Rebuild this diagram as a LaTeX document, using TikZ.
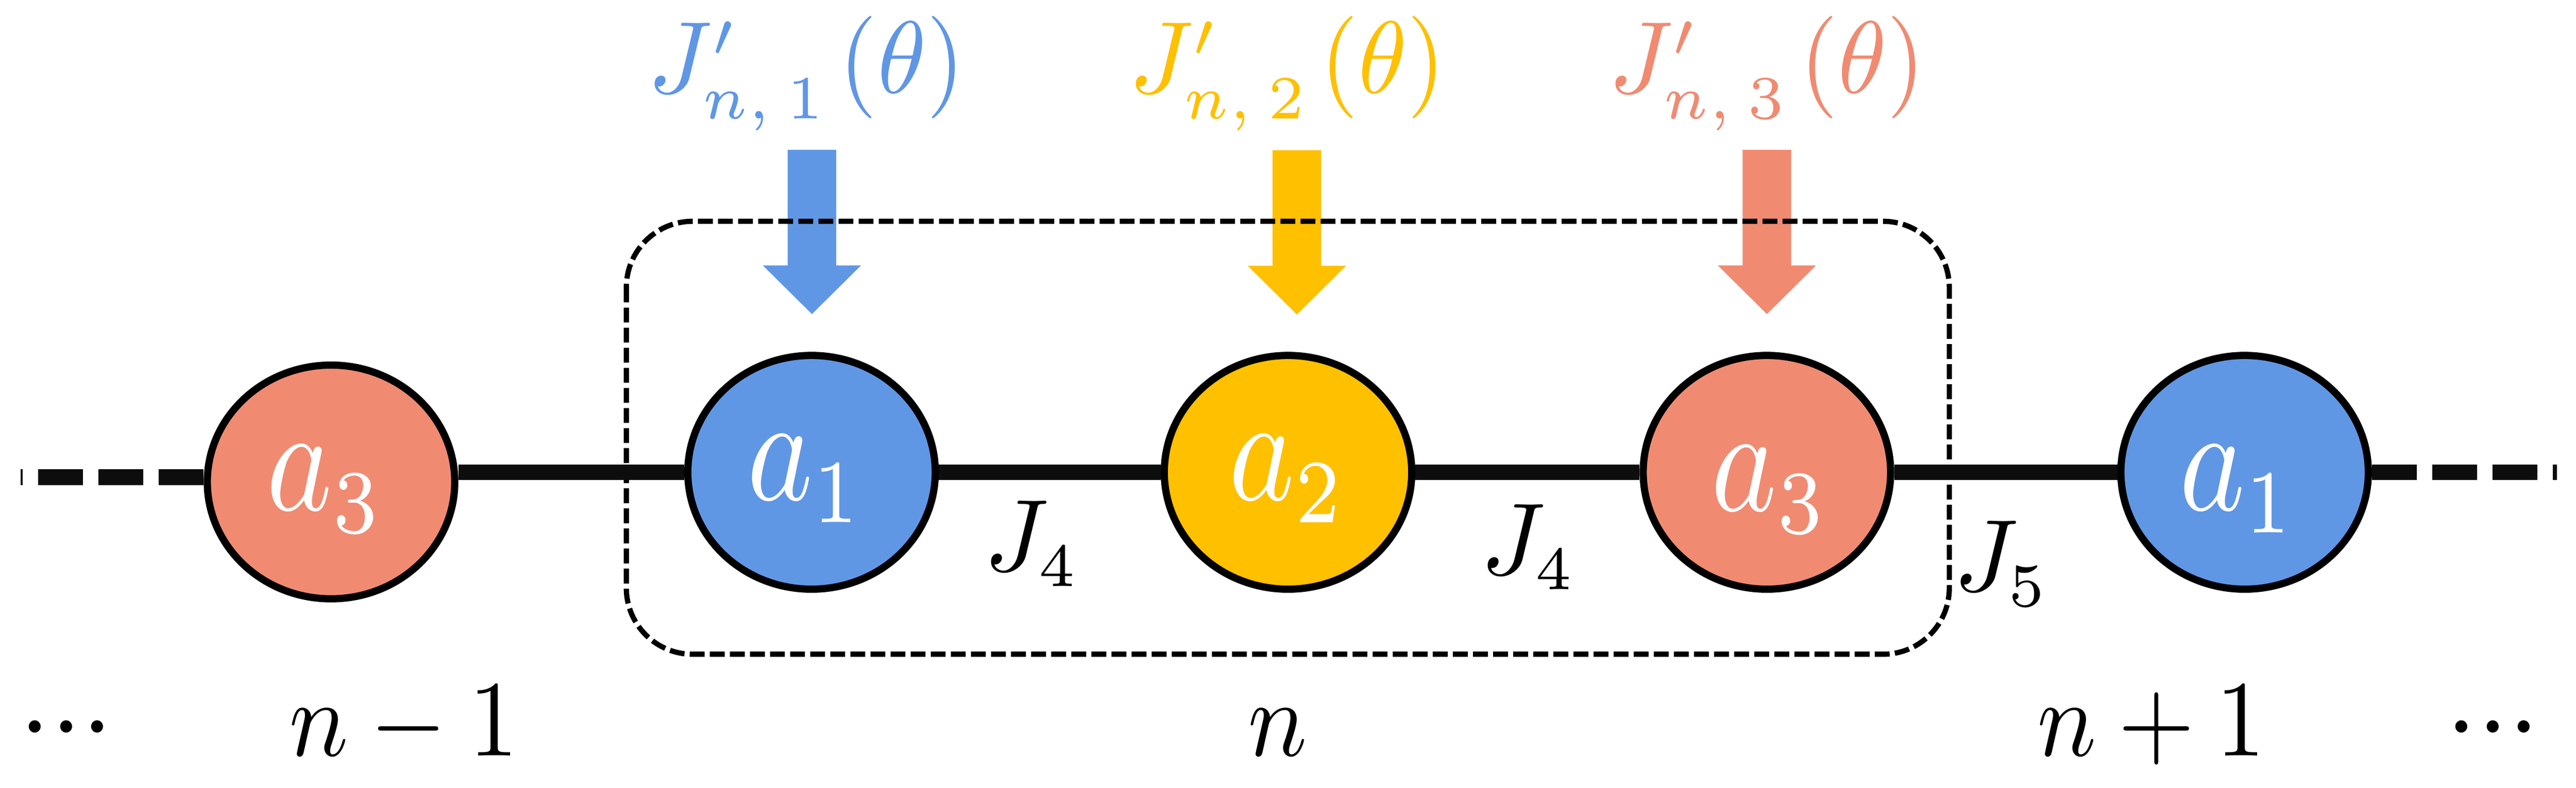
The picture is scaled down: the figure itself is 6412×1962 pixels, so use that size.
\documentclass[tikz,border=0pt]{standalone}
\usepackage{graphicx}
\usetikzlibrary{shapes.geometric}
\DeclareMathSizes{10}{10}{6}{5}
\definecolor{cblue}{HTML}{6097E5}
\definecolor{cyel}{HTML}{FFC000}
\definecolor{cred}{HTML}{F08B72}
\definecolor{cbond}{HTML}{0D0D0D}
\newcommand{\sitetext}[1]{\scalebox{3.1}[3.74]{\fontsize{10}{12}\selectfont$#1$}}
\newcommand{\labtext}[1]{\scalebox{2.45}[2.55]{\fontsize{10}{12}\selectfont$#1$}}
\newcommand{\celltext}[1]{\scalebox{2.45}[2.7]{\fontsize{10}{12}\selectfont$#1$}}
\newcommand{\dotstext}{\scalebox{2.8}[2.9]{\fontsize{10}{12}\selectfont${\cdot}{\cdot}{\cdot}$}}
\tikzset{
  site/.style={ellipse, draw=black, line width=1.8pt, minimum width=61.6pt, minimum height=58.2pt, inner sep=0pt},
  sitelab/.style={anchor=base, inner sep=0pt, text=white},
  bond/.style={line width=3.9pt, draw=cbond},
  bonddash/.style={bond, dash pattern=on 11.2pt off 3.8pt},
  cellbox/.style={line width=1.3pt, dash pattern=on 3.7pt off 1.3pt, rounded corners=16.5pt},
  coup/.style={anchor=base, inner sep=0pt},
  bigarrow/.pic={\fill (-60.5,-409) -- (60.5,-409) -- (60.5,-121) -- (122,-121) -- (0,0) -- (-122,-121) -- (-60.5,-121) -- cycle;}
}
\begin{document}
\begin{tikzpicture}[x=0.1pt,y=-0.1pt]
\useasboundingbox (0,0) rectangle (6412,1962);
% field arrows
\pic[fill=cblue] at (2021,782) {bigarrow};
\pic[fill=cyel]  at (3228,783) {bigarrow};
\pic[fill=cred]  at (4398,782) {bigarrow};
% unit cell
\draw[cellbox] (1559,551) rectangle (4852,1629);
% sites
\node[site,fill=cred]  (la3) at (824,1200) {};
\node[site,fill=cblue] (a1)  at (2020,1176) {};
\node[site,fill=cyel]  (a2)  at (3206,1176) {};
\node[site,fill=cred]  (a3)  at (4398,1176) {};
\node[site,fill=cblue] (ra1) at (5587,1176) {};
% bonds
\coordinate (Lend) at (51,1188);
\coordinate (Rend) at (6365,1176);
\draw[bonddash] (la3.west |- Lend) -- (Lend);
\draw[bond] (a1.west) -- (a1.west -| la3.east);
\draw[bond] (a1) -- (a2);
\draw[bond] (a2) -- (a3);
\draw[bond] (a3) -- (ra1);
\draw[bonddash] (ra1.east) -- (ra1.east -| Rend);
% site labels
\node[sitelab] (la3t) at (810,1270)  {\sitetext{a_3}};
\node[sitelab] (a1t)  at (2006,1245) {\sitetext{a_1}};
\node[sitelab] (a2t)  at (3206,1245) {\sitetext{a_2}};
\node[sitelab] (a3t)  at (4406,1272) {\sitetext{a_3}};
\node[sitelab] (ra1t) at (5571,1270) {\sitetext{a_1}};
% field labels
\node[coup,text=cblue] (f1) at (2007,232) {\labtext{J'_{n,\:1}\mskip2mu(\theta)}};
\node[coup,text=cyel]  (f2) at (3204,232) {\labtext{J'_{n,\:2}\mskip2mu(\theta)}};
\node[coup,text=cred]  (f3) at (4398,232) {\labtext{J'_{n,\:3}\mskip2mu(\theta)}};
% couplings
\node[coup] (j4a) at (2569,1422) {\labtext{J_4}};
\node[coup] (j4b) at (3805,1430) {\labtext{J_4}};
\node[coup] (j5)  at (4983,1472) {\labtext{J_5}};
% cell indices
\node[coup] (dl) at (165,1882)  {\dotstext};
\node[coup] (cm) at (1005,1882) {\celltext{n-1}};
\node[coup] (c0) at (3180,1882) {\celltext{n}};
\node[coup] (cp) at (5355,1882) {\celltext{n+1}};
\node[coup] (dr) at (6205,1882) {\dotstext};
\end{tikzpicture}
\end{document}
